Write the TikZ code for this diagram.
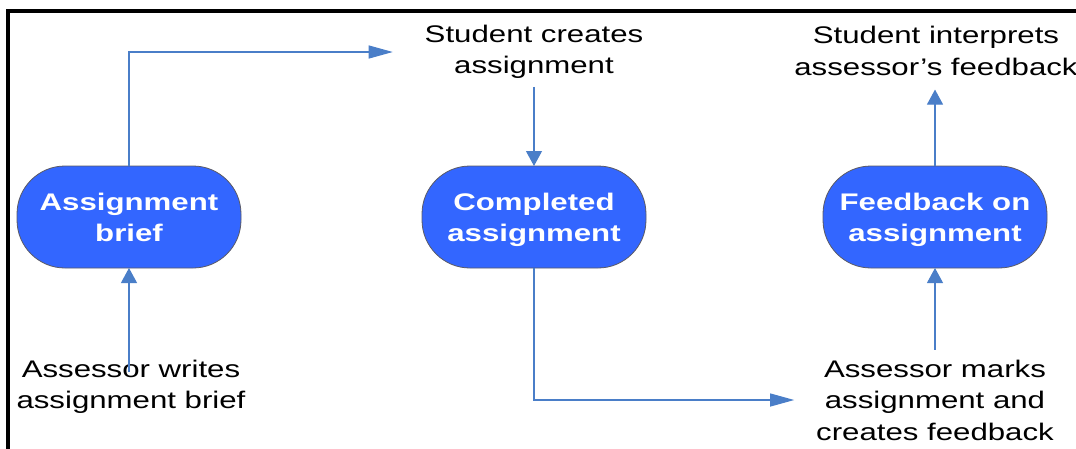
\documentclass[tikz,border=0pt]{standalone}
\usepackage{fontspec}
\usetikzlibrary{arrows.meta}
\newfontfamily\flowfont{Liberation Sans}[FakeStretch=1.3]
\definecolor{boxblue}{RGB}{51,102,255}
\definecolor{boxedge}{RGB}{90,90,100}
\definecolor{linkblue}{RGB}{74,126,200}
\tikzset{inner sep=0pt, outer sep=0pt}
\tikzset{
  stage/.style={draw=boxedge, line width=0.8pt, fill=boxblue, rounded corners=48pt,
    minimum width=224pt, minimum height=102pt, align=center, text=white, text depth=0pt,
    font=\flowfont\fontsize{24}{31}\selectfont\bfseries},
  step label/.style={align=center, font=\flowfont\fontsize{24}{31.5}\selectfont},
  link/.style={draw=linkblue, line width=1.1pt},
  up link/.style={link, -{Triangle[length=15pt,width=16pt]}},
  side link/.style={link, -{Triangle[length=24pt,width=13pt]}}
}
\begin{document}
\begin{tikzpicture}[x=1pt, y=-1pt]
\useasboundingbox (0,0) rectangle (1076,448);
% frame, cut off at right and bottom
\draw[line width=3.2pt] (8,449) -- (8,11) -- (1077,11);

\node[stage] (brief) at (129,217) {Assignment\\brief};
\node[stage] (completed) at (534,217) {Completed\\assignment};
\node[stage] (feedback) at (935,217) {Feedback on\\assignment};

\node[step label] (writes) at (131,387) {Assessor writes\\assignment brief};
\node[step label] (creates) at (534,52) {Student creates\\assignment};
\node[step label] (marks) at (935,400) {Assessor marks\\assignment and\\creates feedback};
\node[step label] (interprets) at (936,51) {Student interprets\\assessor’s feedback};

\draw[up link, shorten <=-12pt] (writes.north -| brief.south) -- (brief.south);
\draw[side link, shorten >=32pt] (brief.north) |- (creates.west);
\draw[up link, shorten <=8pt] (creates.south) -- (completed.north);
\draw[side link, shorten >=22pt] (completed.south) |- (marks.west);
\draw[up link, shorten <=10pt] (marks.north) -- (feedback.south);
\draw[up link, shorten >=14pt] (feedback.north) -- (feedback.north |- interprets.south);
\end{tikzpicture}
\end{document}
